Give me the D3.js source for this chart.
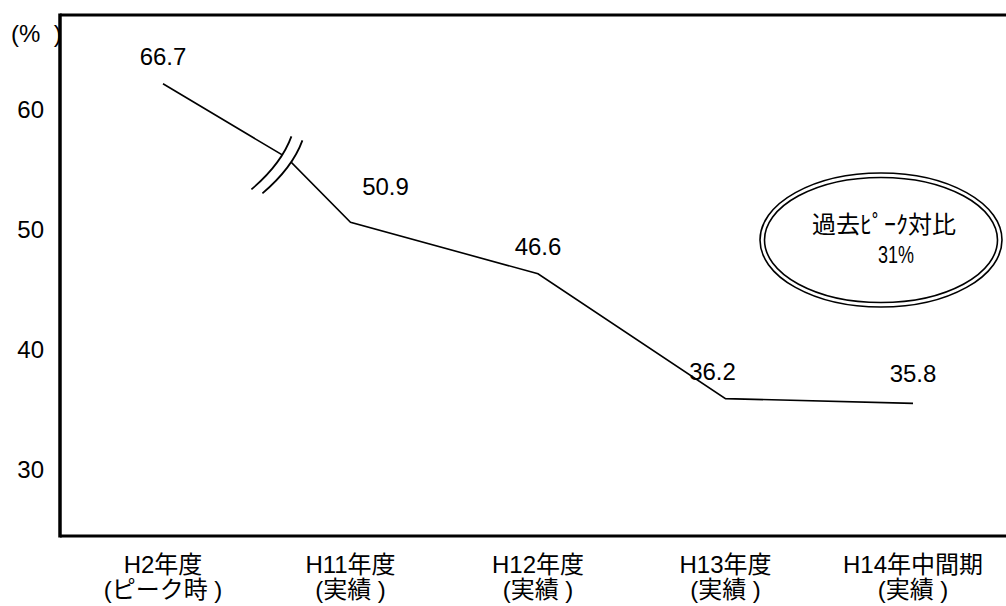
<!DOCTYPE html>
<html lang="ja">
<head>
<meta charset="UTF-8">
<title>過去ピーク対比</title>
<script src="https://d3js.org/d3.v7.min.js"></script>
<style>
  body { margin: 0; background: #fff; }
  svg { display: block; }
  text { font-family: "Liberation Sans", Arial, "Noto Sans CJK JP", sans-serif; fill: #000; }
</style>
</head>
<body>
<svg id="chart" width="1006" height="606"></svg>
<script>
// data
const categories = ["H2年度", "H11年度", "H12年度", "H13年度", "H14年中間期"];
const subLabels = ["(ピーク時 )", "(実績 )", "(実績 )", "(実績 )", "(実績 )"];
const values = [66.7, 50.9, 46.6, 36.2, 35.8];
const yTicks = [30, 40, 50, 60];
const noteLines = ["過去ﾋﾟｰｸ対比", "31%"];

// axis break: the line is cut where it crosses this value, above it the scale is compressed
const breakValue = 56.3;
const upperCompress = 0.59;

const W = 1006;
const plotLeft = 60, plotTop = 15, plotBottom = 536;

const svg = d3.select("#chart");

const x = d3.scalePoint()
  .domain(categories)
  .range([163, 913]);

const yMain = d3.scaleLinear()
  .domain([24.75, 60])
  .range([plotBottom, 113]);

const pxPerUnit = yMain(0) - yMain(1);
const yBroken = d3.scaleLinear()
  .domain([24.75, breakValue, 70])
  .range([plotBottom, yMain(breakValue), yMain(breakValue) - (70 - breakValue) * pxPerUnit * upperCompress]);

// frame
svg.append("line")
  .attr("x1", plotLeft).attr("x2", W + 10)
  .attr("y1", plotTop).attr("y2", plotTop)
  .attr("stroke", "#000").attr("stroke-width", 3);
svg.append("line")
  .attr("x1", plotLeft).attr("x2", W + 10)
  .attr("y1", plotBottom).attr("y2", plotBottom)
  .attr("stroke", "#000").attr("stroke-width", 3);
svg.append("line")
  .attr("x1", plotLeft).attr("x2", plotLeft)
  .attr("y1", plotTop - 1.5).attr("y2", plotBottom + 1.5)
  .attr("stroke", "#000").attr("stroke-width", 3.5);

// y tick labels
svg.append("g")
  .selectAll("text")
  .data(yTicks)
  .join("text")
  .attr("x", 44)
  .attr("y", d => yMain(d))
  .attr("dy", "0.22em")
  .attr("text-anchor", "end")
  .attr("font-size", 24)
  .text(d => d);

svg.append("text")
  .attr("x", 11)
  .attr("y", 42)
  .attr("font-size", 24)
  .style("white-space", "pre")
  .text("(%  )");

// line, with the break point inserted between the first two points
const pts = categories.map((c, i) => [x(c), yBroken(values[i])]);
const t = (values[0] - breakValue) / (values[0] - values[1]);
const breakPt = [x(categories[0]) + t * (x(categories[1]) - x(categories[0])), yBroken(breakValue)];
const linePts = [pts[0], breakPt, ...pts.slice(1)];

svg.append("path")
  .attr("d", d3.line()(linePts))
  .attr("fill", "none")
  .attr("stroke", "#000")
  .attr("stroke-width", 1.6);

// break marks
const [bx, by] = breakPt;
const curve = (dx, dy) =>
  `M${bx - 35 + dx},${by + 32 + dy} Q${bx - 5 + dx},${by + 6.5 + dy} ${bx + 5 + dx},${by - 21 + dy}`;
const gap = `M${bx - 35},${by + 32} Q${bx - 5},${by + 6.5} ${bx + 5},${by - 21}` +
  ` L${bx + 16},${by - 17} Q${bx + 6},${by + 10.5} ${bx - 24},${by + 36} Z`;
svg.append("path").attr("d", gap).attr("fill", "#fff");
svg.append("path").attr("d", curve(0, 0))
  .attr("fill", "none").attr("stroke", "#000").attr("stroke-width", 1.8);
svg.append("path").attr("d", curve(11, 4))
  .attr("fill", "none").attr("stroke", "#000").attr("stroke-width", 1.8);

// value labels
const labelNudge = [[0, 0], [35, -8], [0, 0], [-13, 0], [0, -2]];
svg.append("g")
  .selectAll("text")
  .data(values)
  .join("text")
  .attr("x", (d, i) => pts[i][0] + labelNudge[i][0])
  .attr("y", (d, i) => pts[i][1] - 19 + labelNudge[i][1])
  .attr("text-anchor", "middle")
  .attr("font-size", 24)
  .text(d => d.toFixed(1));

// x labels
const xl = svg.append("g")
  .selectAll("text")
  .data(categories)
  .join("text")
  .attr("text-anchor", "middle")
  .attr("font-size", 24)
  .style("white-space", "pre");
xl.append("tspan")
  .attr("x", d => x(d))
  .attr("y", 573)
  .text(d => d);
xl.append("tspan")
  .attr("x", d => x(d))
  .attr("y", 598)
  .text((d, i) => subLabels[i]);

// note ellipse
const cx = 881, cy = 240;
svg.append("ellipse")
  .attr("cx", cx).attr("cy", cy).attr("rx", 121).attr("ry", 67)
  .attr("fill", "#fff").attr("stroke", "#000").attr("stroke-width", 1.6);
svg.append("ellipse")
  .attr("cx", cx).attr("cy", cy).attr("rx", 116.5).attr("ry", 62.5)
  .attr("fill", "none").attr("stroke", "#000").attr("stroke-width", 1.6);
svg.append("text")
  .attr("x", cx + 3)
  .attr("y", cy - 7)
  .attr("text-anchor", "middle")
  .attr("font-family", "'Noto Sans CJK JP', sans-serif")
  .attr("font-size", 24)
  .text(noteLines[0]);
svg.append("text")
  .attr("x", cx + 15)
  .attr("y", cy + 23)
  .attr("text-anchor", "middle")
  .attr("font-family", "'Noto Sans CJK JP', sans-serif")
  .attr("font-size", 24)
  .attr("textLength", 36)
  .attr("lengthAdjust", "spacingAndGlyphs")
  .text(noteLines[1]);
</script>
</body>
</html>
